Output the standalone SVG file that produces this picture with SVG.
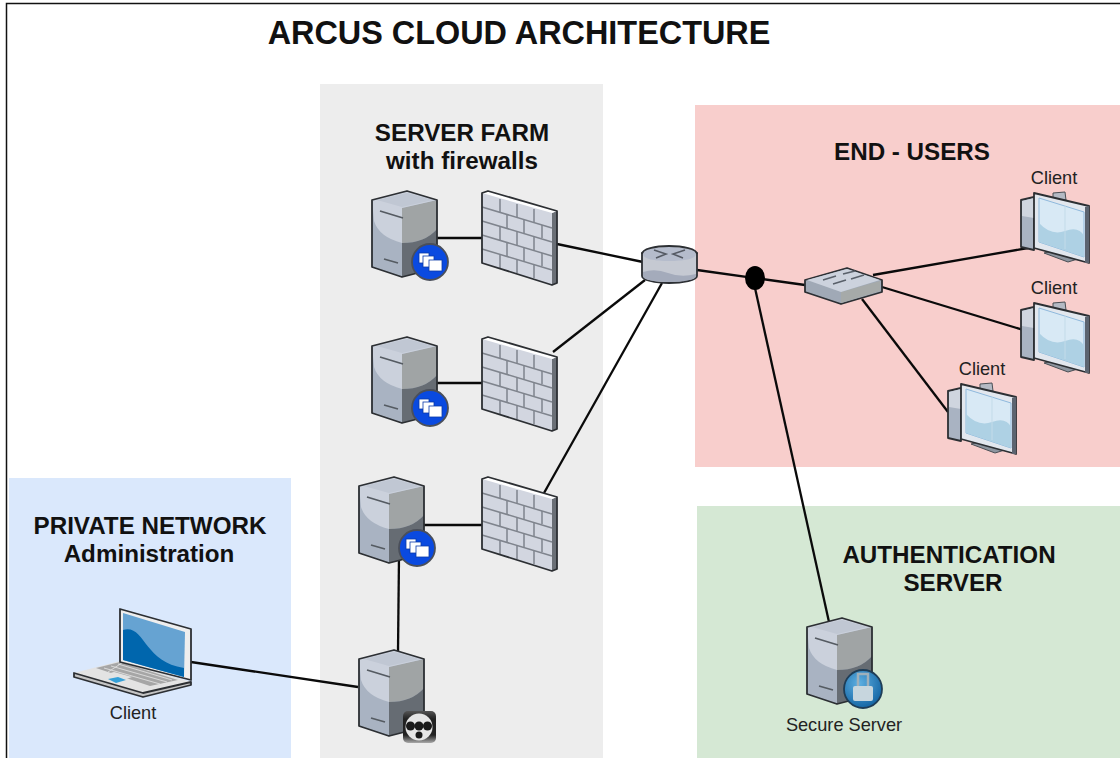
<svg xmlns="http://www.w3.org/2000/svg" width="1120" height="758" viewBox="0 0 1120 758">
<style>
text{font-family:"Liberation Sans",Arial,sans-serif;text-anchor:middle;fill:#111}
.h{font-weight:bold;font-size:24.200px}
.t{font-weight:bold;font-size:32.400px}
.c{font-size:18.200px;fill:#222}
.e{fill:none;stroke:#0a0a0a;stroke-width:2.300}
.o{stroke:#2c2f33;stroke-width:1.800;stroke-linejoin:round}
</style>
<defs>
<linearGradient id="bd" x1="0" y1="0" x2="0" y2="1"><stop offset="0" stop-color="#555"/><stop offset="0.25" stop-color="#222"/><stop offset="0.75" stop-color="#222"/><stop offset="1" stop-color="#aaa"/></linearGradient>
<radialGradient id="lk" cx="0.4" cy="0.35" r="0.75"><stop offset="0" stop-color="#5fb0e2"/><stop offset="1" stop-color="#0b5c9c"/></radialGradient>
<g id="server">
<path d="M1 9 36 0 66 9 66 77 31 86 1 76Z" fill="#a9b3c2"/>
<path d="M31 17 66 9 66 38 Q54 52 31 52 Z" fill="#a0a4a5"/>
<path d="M31 52Q54 52 66 38V77L31 86Z" fill="#666c73"/>
<path d="M1 9 36 0 66 9 31 17 31 52Q8 46 3 30Z" fill="#cbd1dc"/>
<path d="M6 9 36 2 62 9 31 16Z" fill="#c0c7d3"/>
<path d="M9 20 32 27M13 68 27 72" stroke="#555b62" stroke-width="1.800" fill="none"/>
<path d="M1 9 36 0 66 9 66 77 31 86 1 76Z" fill="none" class="o"/>
</g>
<g id="badge">
<circle r="18" fill="#0a4ae0" stroke="#4a4f5a" stroke-width="1.800"/>
<g fill="#fff" stroke="#0a3aa8" stroke-width="0.800"><rect x="-11" y="-9" width="10" height="10"/><rect x="-7" y="-6" width="11" height="11"/><rect x="-1" y="-2" width="13" height="11"/></g>
</g>
<g id="firewall">
<path d="M0 2 6 0 75 20 75 92 70 94 0 72Z" fill="#d2d6e0"/>
<path d="M70 22 75 20 75 92 70 94Z" fill="#6a6f76"/>
<path d="M0 2 6 0 75 20 70 22Z" fill="#fff"/>
<g fill="none" stroke="#7f848d" stroke-width="1.500">
<path d="M0 16 70 37M0 30 70 51M0 44 70 65M0 58 70 79"/>
<path d="M18 8V21M35 13V26M52 18V31M25 24V37M42 29V42M60 34V47M18 36V49M35 41V54M52 46V59M25 52V65M42 57V70M60 62V75M18 64V77M35 69V82M52 74V87"/>
</g>
<path d="M0 2 6 0 75 20 75 92 70 94 0 72Z" fill="none" class="o"/>
</g>
<g id="client">
<path d="M0 8 13 5 13 58 0 55Z" fill="#a9b3c2" class="o"/>
<path d="M1 9 13 6 13 26 1 24Z" fill="#cfd5df"/>
<path d="M32 1 44 0 45 8 32 8Z" fill="#b4bac4" stroke="#4a4f55" stroke-width="1"/>
<path d="M23 61 35 58 60 66 47 70Z" fill="#8d959f" stroke="#4a4f55" stroke-width="1"/>
<path d="M13 1 68 14 68 71 13 56Z" fill="#e2e7ee" class="o"/>
<path d="M64 15 68 14 68 71 64 71Z" fill="#5c6470"/>
<path d="M18 6 63 20 63 65 18 50Z" fill="#d8e9f5" stroke="#8fb9dd"/>
<path d="M18 31Q30 44 44 39T63 44V65L18 50Z" fill="#aed1e4"/>
<path d="M44 14V57" fill="none" stroke="#c3dbe9"/>
</g>
</defs>

<rect width="1120" height="758" fill="#fff"/>
<path d="M6.500 758V3.500H1120" fill="none" stroke="#111" stroke-width="1.500"/>
<rect x="320" y="84" width="283" height="674" fill="#ededed"/>
<rect x="695" y="105" width="425" height="362" fill="#f8cecc"/>
<rect x="697" y="506" width="423" height="252" fill="#d5e8d4"/>
<rect x="9" y="478" width="282" height="280" fill="#dae8fc"/>

<text class="t" x="519" y="44">ARCUS CLOUD ARCHITECTURE</text>
<text class="h" x="462" y="141">SERVER FARM</text>
<text class="h" x="462" y="169">with firewalls</text>
<text class="h" x="912" y="160">END - USERS</text>
<text class="h" x="150" y="534">PRIVATE NETWORK</text>
<text class="h" x="149" y="562">Administration</text>
<text class="h" x="949" y="563">AUTHENTICATION</text>
<text class="h" x="953" y="591">SERVER</text>

<g id="connectors" class="e">
<path d="M437 238H482"/>
<path d="M557 244 643 262"/>
<path d="M437 383H482"/>
<path d="M553 352 645 280"/>
<path d="M424 525H482"/>
<path d="M544 493 662 283"/>
<path d="M399 556 398 651"/>
<path d="M191 662 358 687"/>
<path d="M697 270 805 285"/>
<path d="M755 288 829 622"/>
<path d="M873 275 1028 248"/>
<path d="M882 287 1030 332"/>
<path d="M862 299 948 412"/>
</g>

<g id="server1"><use href="#server" x="371" y="191"/><use href="#badge" x="430" y="262"/></g>
<g id="server2"><use href="#server" x="371" y="337"/><use href="#badge" x="430" y="408"/></g>
<g id="server3"><use href="#server" x="358" y="477"/><use href="#badge" x="417" y="548"/></g>
<g id="firewall1"><use href="#firewall" x="482" y="191"/></g>
<g id="firewall2"><use href="#firewall" x="482" y="337"/></g>
<g id="firewall3"><use href="#firewall" x="482" y="477"/></g>

<g id="gateway">
<use href="#server" x="358" y="650"/>
<rect x="403" y="711" width="33" height="32" rx="5" fill="url(#bd)"/>
<circle cx="419" cy="727" r="13.500" fill="#e6e6e6"/>
<g fill="#1a1a1a"><circle cx="410.500" cy="726" r="4.500"/><circle cx="419" cy="726" r="4.500"/><circle cx="427.500" cy="726" r="4.500"/><circle cx="419" cy="735" r="3.500"/></g>
</g>

<g id="router">
<path d="M642 253V276C642 280 655 283 669 283S697 280 697 276V253Z" fill="#c5c9d2" class="o"/>
<path d="M643 272Q655 268 668 273T696 274V276C696 280 683 282 669 282S643 280 643 276Z" fill="#a4abbb"/>
<path d="M643 254C643 249 655 247 669 247S696 249 696 254 683 261 669 261 643 259 643 254Z" fill="#b5bccc"/>
<path d="M642 254C642 249 655 246 669 246S697 249 697 254" fill="none" class="o"/>
<path d="M654 250 666 254 656 258M685 250 673 254 683 258" fill="none" stroke="#555a64" stroke-width="1.600"/>
</g>
<g id="junction"><ellipse cx="755" cy="278" rx="10" ry="12" fill="#000"/></g>
<g id="switch">
<path d="M805 280 847 268 882 280 882 292 841 304 805 292Z" fill="#a0a9b6" class="o"/>
<path d="M841 292 880 281 880 291 841 303Z" fill="#a6aaa9"/>
<path d="M807 280 847 269 880 280 841 292Z" fill="#ccd2dd"/>
<path d="M823 280 836 276M843 274 855 271M833 284 846 280M851 279 864 275" stroke="#59606a" stroke-width="1.500"/>
</g>

<g id="client1"><use href="#client" x="1021" y="192"/><text class="c" x="1054" y="184">Client</text></g>
<g id="client2"><use href="#client" x="1021" y="302"/><text class="c" x="1054" y="294">Client</text></g>
<g id="client3"><use href="#client" x="948" y="383"/><text class="c" x="982" y="375">Client</text></g>

<g id="laptop">
<path d="M74 673 120 661 191 682 143 693Z" fill="#e3e3e3"/>
<path d="M74 673 143 693 191 682 191 685 143 697 74 677Z" fill="#c4c4c4" class="o"/>
<path d="M96 668 120 662 178 680 150 686Z" fill="#a6a6a6"/>
<path d="M104 668 160 684M111 666 167 682M118 664 172 680M108 672 128 659" fill="none" stroke="#e6e6e6" stroke-width="0.800"/>
<path d="M100 676 114 672 132 677 118 682Z" fill="#e3e3e3"/>
<path d="M108 679 118 677 126 680 116 683Z" fill="#35a0d8"/>
<path d="M120 609 191 629 191 680 120 662Z" fill="#eeeeee" class="o"/>
<path d="M123 613 185 632 184 677 123 660Z" fill="#66a3d2"/>
<path d="M123 630C145 624 143 662 184 668V677L123 660Z" fill="#0066ad"/>
<text class="c" x="133" y="719">Client</text>
</g>

<g id="secure">
<use href="#server" x="806" y="618"/>
<circle cx="863" cy="689" r="19" fill="url(#lk)" stroke="#1f3d57" stroke-width="1.800"/>
<path d="M858 687V674H868V687" fill="none" stroke="#9fb0bb" stroke-width="2.500"/>
<rect x="853" y="686" width="20" height="15" rx="2" fill="#c7d6de"/>
<text class="c" x="844" y="731">Secure Server</text>
</g>
</svg>
